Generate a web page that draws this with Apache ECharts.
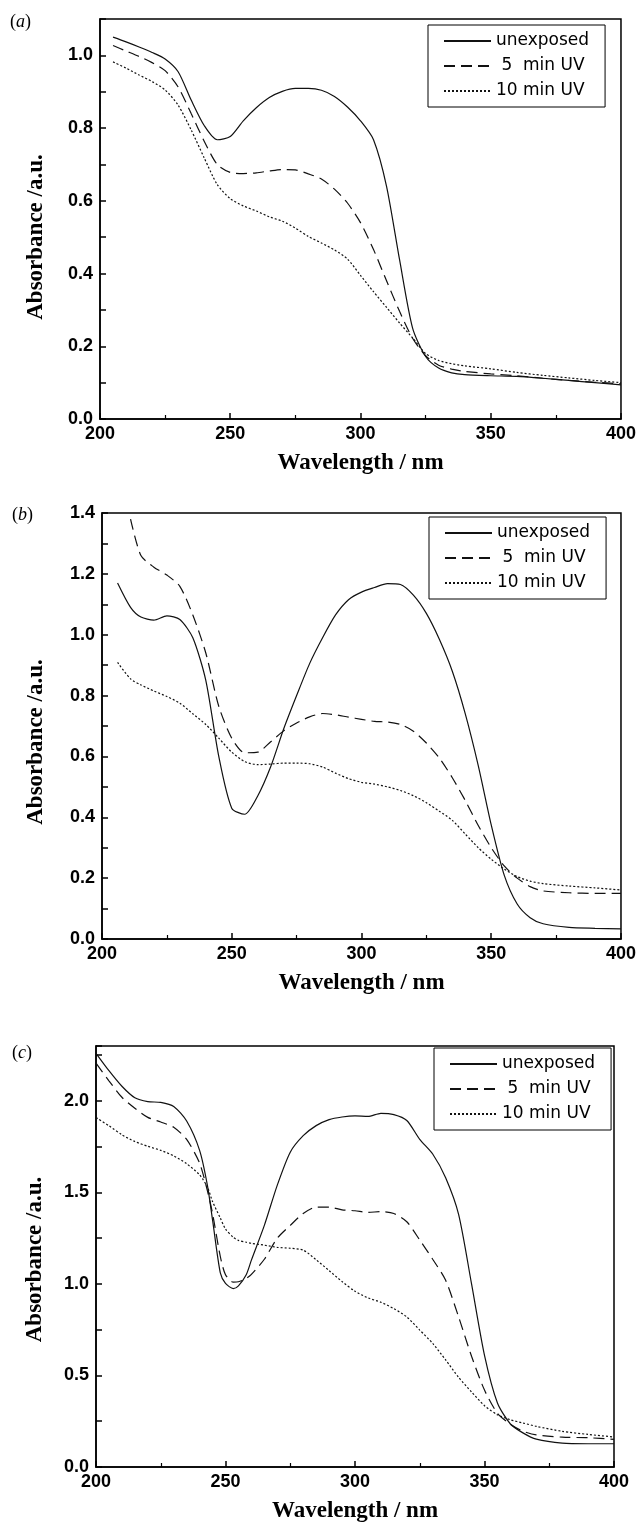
<!DOCTYPE html>
<html><head><meta charset="utf-8">
<script src="https://cdn.jsdelivr.net/npm/echarts@6/dist/echarts.min.js"></script>
<style>html,body{margin:0;padding:0;background:#fff}#c{width:639px;height:1531px}</style>
</head><body><div id="c"></div>
<script>
// ---------- data ----------
const seriesNames = ['unexposed', ' 5  min UV', '10 min UV'];
const panelLabels = ['a', 'b', 'c'];
const xAxisTitle = 'Wavelength / nm';
const yAxisTitle = 'Absorbance /a.u.';

// panel (a)
const wlA = [205,210,215,220,225,230,235,240,245,250,255,260,265,270,275,280,285,290,295,300,305,310,315,320,325,330,335,340,350,360,370,380,390,400];
const unexposedA = [1.05,1.037,1.023,1.008,0.99,0.955,0.877,0.807,0.768,0.777,0.82,0.856,0.884,0.901,0.909,0.909,0.904,0.887,0.858,0.82,0.768,0.64,0.438,0.25,0.172,0.14,0.127,0.122,0.119,0.117,0.112,0.106,0.10,0.094];
const uv5A = [1.027,1.012,0.997,0.98,0.958,0.913,0.84,0.764,0.70,0.678,0.675,0.677,0.682,0.686,0.685,0.674,0.66,0.632,0.594,0.54,0.466,0.38,0.296,0.222,0.174,0.148,0.137,0.131,0.124,0.119,0.112,0.106,0.101,0.097];
const uv10A = [0.982,0.965,0.946,0.928,0.905,0.863,0.795,0.718,0.645,0.606,0.586,0.572,0.556,0.544,0.525,0.502,0.484,0.465,0.44,0.395,0.35,0.307,0.264,0.223,0.18,0.161,0.152,0.146,0.138,0.128,0.12,0.113,0.106,0.10];

// panel (b)
const wlB = [206,211,215,220,225,230,235,240,245,250,255,260,265,270,275,280,285,290,295,300,305,310,315,320,325,330,335,340,345,350,355,360,365,370,380,390,400];
const unexposedB = [1.17,1.09,1.058,1.048,1.062,1.05,0.99,0.85,0.60,0.43,0.41,0.47,0.566,0.69,0.80,0.905,0.99,1.065,1.115,1.14,1.155,1.168,1.165,1.13,1.07,0.985,0.88,0.74,0.57,0.375,0.21,0.115,0.07,0.05,0.038,0.035,0.033];
const uv5B = [null,1.38,1.26,1.222,1.196,1.159,1.065,0.94,0.765,0.66,0.612,0.614,0.648,0.684,0.71,0.73,0.741,0.737,0.729,0.722,0.715,0.713,0.705,0.683,0.644,0.595,0.53,0.455,0.373,0.30,0.24,0.2,0.172,0.158,0.152,0.15,0.15];
const uv10B = [0.909,0.855,0.835,0.815,0.797,0.775,0.74,0.705,0.66,0.614,0.583,0.573,0.575,0.578,0.578,0.576,0.565,0.545,0.527,0.515,0.509,0.50,0.488,0.471,0.448,0.42,0.39,0.345,0.30,0.262,0.23,0.205,0.19,0.182,0.174,0.168,0.161];

// panel (c)
const wlC = [200,205,210,215,220,225,230,235,240,243,245,248,250,253,255,258,260,265,270,275,280,285,290,295,300,305,310,315,320,325,330,335,340,345,350,355,360,365,370,380,390,400];
const unexposedC = [2.26,2.165,2.08,2.017,1.996,1.992,1.97,1.89,1.73,1.54,1.35,1.06,1.003,0.975,0.99,1.05,1.13,1.32,1.54,1.72,1.81,1.865,1.898,1.912,1.918,1.915,1.932,1.925,1.893,1.79,1.71,1.58,1.38,1.0,0.61,0.35,0.235,0.185,0.152,0.13,0.127,0.127];
const uv5C = [2.206,2.11,2.02,1.96,1.91,1.885,1.856,1.79,1.66,1.51,1.385,1.15,1.05,1.01,1.012,1.03,1.052,1.135,1.25,1.32,1.385,1.42,1.42,1.405,1.40,1.391,1.395,1.385,1.34,1.24,1.135,1.02,0.82,0.605,0.42,0.293,0.234,0.195,0.175,0.163,0.16,0.151];
const uv10C = [1.909,1.864,1.815,1.778,1.752,1.73,1.70,1.657,1.596,1.53,1.45,1.36,1.30,1.255,1.238,1.228,1.222,1.212,1.20,1.195,1.185,1.132,1.073,1.013,0.96,0.924,0.90,0.865,0.82,0.748,0.675,0.585,0.49,0.41,0.335,0.285,0.258,0.24,0.222,0.195,0.178,0.164];

const xMin = 200, xMax = 400, xInterval = 50;
const yMaxes = [1.1, 1.4, 2.3];
const yIntervals = [0.1, 0.1, 0.25];
const yLabelSteps = [0.2, 0.2, 0.5];

// ---------- layout / style ----------
const panels = [
  { wl: wlA, vals: [unexposedA, uv5A, uv10A], grid: {left:100, top:19, width:521, height:400}, legend: {left:428, top:25}, label: {left:10, top:13}, yNameGap:52, yNamePad:[0,36,0,0] },
  { wl: wlB, vals: [unexposedB, uv5B, uv10B], grid: {left:102, top:513, width:521, height:426}, legend: {left:429, top:517}, label: {left:12, top:506}, yNameGap:54, yNamePad:[0,32,0,0] },
  { wl: wlC, vals: [unexposedC, uv5C, uv10C], grid: {left:96, top:1046, width:518, height:421}, legend: {left:434, top:1048}, label: {left:12, top:1044}, yNameGap:49, yNamePad:[0,6,0,0] }
];
const lineTypes = [
  { type: 'solid', width: 1.2 },
  { type: [11, 6], width: 1.2 },
  { type: [2, 2], width: 1.2 }
];
const ink = '#111';
const labelFont = { fontFamily: 'Liberation Sans, Arial, sans-serif', fontWeight: 'bold', fontSize: 18, color: '#000' };
const titleFont = { fontFamily: 'Liberation Serif, Times New Roman, serif', fontWeight: 'bold', fontSize: 23, color: '#000' };

const option = { backgroundColor: '#fff', animation: false, grid: [], xAxis: [], yAxis: [], series: [], legend: [], title: [] };

panels.forEach((p, i) => {
  option.grid.push(Object.assign({ show: true, borderColor: '#000', borderWidth: 1.5, backgroundColor: 'transparent' }, p.grid));
  option.xAxis.push({
    type: 'value', gridIndex: i, min: xMin, max: xMax, interval: xInterval,
    name: xAxisTitle, nameLocation: 'middle', nameGap: 33, nameTextStyle: titleFont,
    axisLine: { show: true, lineStyle: { color: '#000', width: 1.5 } },
    axisTick: { show: true, inside: true, length: 6, lineStyle: { color: '#000', width: 1.5 } },
    minorTick: { show: true, splitNumber: 2, length: 4, lineStyle: { color: '#000', width: 1.2 } },
    splitLine: { show: false },
    axisLabel: Object.assign({ margin: 6 }, labelFont)
  });
  const step = yLabelSteps[i], yMax = yMaxes[i];
  option.yAxis.push({
    type: 'value', gridIndex: i, min: 0, max: yMax, interval: yIntervals[i],
    name: yAxisTitle, nameLocation: 'middle', nameGap: p.yNameGap,
    nameTextStyle: Object.assign({ padding: p.yNamePad }, titleFont),
    axisLine: { show: true, lineStyle: { color: '#000', width: 1.5 } },
    axisTick: { show: true, inside: true, length: 6, lineStyle: { color: '#000', width: 1.5 } },
    splitLine: { show: false },
    axisLabel: Object.assign({
      margin: 7,
      showMaxLabel: true,
      formatter: v => {
        const r = Math.round(v / step * 1000) / 1000;
        if (Math.abs(r - Math.round(r)) > 1e-6) return '';
        return v.toFixed(1);
      }
    }, labelFont)
  });
  seriesNames.forEach((name, k) => {
    const data = [];
    p.wl.forEach((w, j) => { const v = p.vals[k][j]; if (v !== null) data.push([w, v]); });
    option.series.push({
      type: 'line', name: name, xAxisIndex: i, yAxisIndex: i, data: data,
      symbol: 'none', smooth: 0.25, clip: true,
      lineStyle: { color: ink, width: lineTypes[k].width, type: lineTypes[k].type },
      itemStyle: { color: ink }
    });
  });
  option.legend.push(Object.assign({
    orient: 'vertical', data: seriesNames, itemWidth: 47, itemHeight: 14, itemGap: 5,
    padding: [6, 16, 6, 15], borderColor: '#000', borderWidth: 1, backgroundColor: '#fff',
    selectedMode: false,
    itemStyle: { opacity: 0, color: 'rgba(0,0,0,0)', borderWidth: 0 },
    textStyle: { fontFamily: 'DejaVu Sans, sans-serif', fontSize: 17, color: '#000', lineHeight: 20 }
  }, p.legend));
  option.title.push(Object.assign({
    text: '({i|' + panelLabels[i] + '})', padding: 0,
    textStyle: { fontFamily: 'Liberation Serif, serif', fontWeight: 'normal', fontSize: 18, color: '#000',
      rich: { i: { fontStyle: 'italic', fontFamily: 'Liberation Serif, serif', fontSize: 18, color: '#000' } } }
  }, p.label));
});

const chart = echarts.init(document.getElementById('c'), null, { renderer: 'canvas' });
chart.setOption(option);
</script></body></html>
